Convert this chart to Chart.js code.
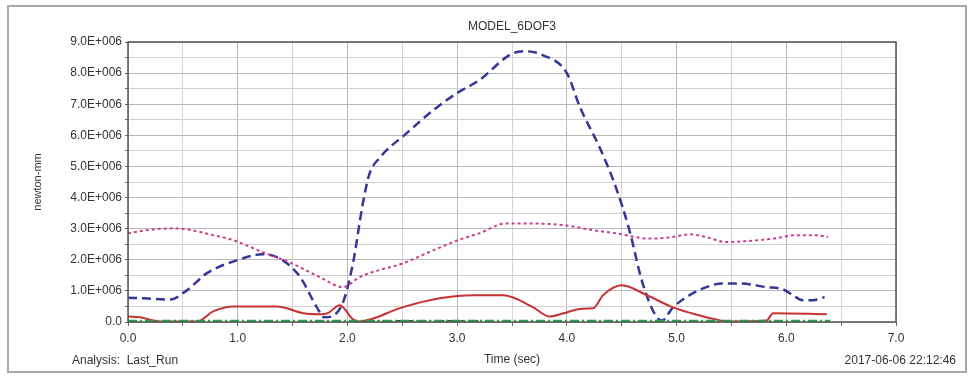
<!DOCTYPE html>
<html>
<head>
<meta charset="utf-8">
<script src="https://cdn.jsdelivr.net/npm/chart.js@4.4.1/dist/chart.umd.min.js"></script>
<style>
  body { margin: 0; background: #fff; }
  #wrap { width: 970px; height: 376px; position: relative; }
</style>
</head>
<body>
<div id="wrap"><canvas id="myChart"></canvas></div>
<script>
// values, force in units of 1.0E+006 newton-mm
const blueTime = [0, 0.15, 0.38, 0.53, 0.72, 0.99, 1.23, 1.41, 1.57, 1.72, 1.79, 1.95, 2.05, 2.14, 2.2, 2.3, 2.54, 2.78, 3.0, 3.2, 3.51, 3.63, 3.78, 4.0, 4.12, 4.3, 4.45, 4.57, 4.69, 4.82, 4.87, 4.96, 5.09, 5.24, 5.42, 5.57, 5.82, 5.97, 6.06, 6.15, 6.24, 6.35];
const blueValues = [0.78, 0.76, 0.72, 1.0, 1.57, 1.98, 2.18, 1.98, 1.44, 0.48, 0.15, 0.55, 1.88, 3.8, 4.75, 5.3, 6.07, 6.8, 7.36, 7.77, 8.64, 8.7, 8.58, 8.0, 6.9, 5.6, 4.3, 2.95, 1.25, 0.15, 0.05, 0.44, 0.8, 1.08, 1.24, 1.24, 1.12, 1.05, 0.86, 0.7, 0.7, 0.8];

const pinkTime = [0, 0.17, 0.41, 0.53, 0.78, 0.96, 1.23, 1.47, 1.75, 1.96, 2.11, 2.2, 2.5, 2.78, 3.0, 3.2, 3.45, 3.63, 4.0, 4.24, 4.45, 4.75, 4.96, 5.12, 5.27, 5.45, 5.64, 5.88, 6.09, 6.27, 6.38];
const pinkValues = [2.85, 2.95, 3.01, 2.98, 2.79, 2.63, 2.24, 1.92, 1.44, 1.12, 1.44, 1.57, 1.88, 2.3, 2.62, 2.85, 3.17, 3.17, 3.1, 2.95, 2.85, 2.68, 2.73, 2.82, 2.73, 2.57, 2.6, 2.68, 2.79, 2.79, 2.73];

const redTime = [0, 0.11, 0.29, 0.63, 0.78, 0.96, 1.36, 1.6, 1.75, 1.82, 1.93, 2.05, 2.11, 2.5, 2.84, 3.15, 3.42, 3.69, 3.84, 3.97, 4.12, 4.24, 4.33, 4.5, 4.73, 4.96, 5.21, 5.36, 5.48, 5.82, 5.88, 6.37];
const redValues = [0.18, 0.15, 0.02, 0.02, 0.35, 0.5, 0.5, 0.28, 0.25, 0.28, 0.54, 0.09, 0.02, 0.47, 0.76, 0.86, 0.86, 0.48, 0.18, 0.28, 0.42, 0.44, 0.86, 1.18, 0.86, 0.48, 0.21, 0.08, 0.02, 0.05, 0.28, 0.25];

const greenTime = [0, 1, 2, 3, 4, 5, 6, 6.4];
const greenValues = [0.03, 0.03, 0.03, 0.03, 0.03, 0.03, 0.03, 0.03];

const blackTime = [2.2, 2.7, 3.2];
const blackValues = [0.04, 0.04, 0.04];

const xTickLabels = ['0.0', '1.0', '2.0', '3.0', '4.0', '5.0', '6.0', '7.0'];
const yTickLabels = ['0.0', '1.0E+006', '2.0E+006', '3.0E+006', '4.0E+006', '5.0E+006', '6.0E+006', '7.0E+006', '8.0E+006', '9.0E+006'];

const FONT = "'Liberation Sans', Arial, sans-serif";

function toPoints(times, values) {
    return times.map((t, i) => ({ x: t, y: values[i] * 1e6 }));
}

// frame, plot border and loose texts
const framePlugin = {
    id: 'frame',
    beforeDraw(chart) {
        const ctx = chart.ctx;
        ctx.save();
        ctx.fillStyle = '#fff';
        ctx.fillRect(0, 0, chart.width, chart.height);
        ctx.strokeStyle = '#a8a8a8';
        ctx.lineWidth = 2;
        ctx.strokeRect(8, 6, 958, 366);
        ctx.restore();
    },
    afterDraw(chart) {
        const ctx = chart.ctx;
        const a = chart.chartArea;
        ctx.save();
        ctx.strokeStyle = '#555';
        ctx.lineWidth = 1.5;
        ctx.strokeRect(a.left, a.top, a.right - a.left, a.bottom - a.top);
        ctx.fillStyle = '#333';
        ctx.font = '12px ' + FONT;
        ctx.textBaseline = 'middle';
        ctx.textAlign = 'center';
        ctx.fillText('MODEL_6DOF3', (a.left + a.right) / 2, 27);
        ctx.textAlign = 'left';
        ctx.fillText('Analysis:  Last_Run', 72, 361);
        ctx.textAlign = 'right';
        ctx.fillText('2017-06-06 22:12:46', 956, 361);
        ctx.restore();
    }
};

function renderChart() {
    const ctx = document.getElementById('myChart').getContext('2d');
    new Chart(ctx, {
        type: 'line',
        data: {
            datasets: [
                {
                    data: toPoints(greenTime, greenValues),
                    borderColor: '#22a544',
                    borderWidth: 2.5,
                    borderDash: [9, 3, 2, 3],
                    pointRadius: 0
                },
                {
                    data: toPoints(blackTime, blackValues),
                    borderColor: '#444',
                    borderWidth: 1.5,
                    borderDash: [5, 3, 2, 3],
                    pointRadius: 0
                },
                {
                    data: toPoints(redTime, redValues),
                    borderColor: '#c83232',
                    borderWidth: 2,
                    pointRadius: 0,
                    cubicInterpolationMode: 'monotone'
                },
                {
                    data: toPoints(pinkTime, pinkValues),
                    borderColor: '#cc3d8a',
                    borderWidth: 2,
                    borderDash: [3, 3],
                    pointRadius: 0,
                    cubicInterpolationMode: 'monotone'
                },
                {
                    data: toPoints(blueTime, blueValues),
                    borderColor: '#35359a',
                    borderWidth: 2.5,
                    borderDash: [9, 5],
                    pointRadius: 0,
                    cubicInterpolationMode: 'monotone'
                }
            ]
        },
        options: {
            responsive: true,
            maintainAspectRatio: false,
            animation: false,
            layout: { padding: { left: 0, top: 42, right: 74, bottom: 0 } },
            plugins: {
                legend: { display: false },
                tooltip: { enabled: false }
            },
            scales: {
                x: {
                    type: 'linear',
                    min: 0,
                    max: 7,
                    afterFit: s => { s.height = 54; },
                    afterBuildTicks: s => {
                        s.ticks = [];
                        for (let i = 0; i <= 14; i++) s.ticks.push({ value: i * 0.5 });
                    },
                    ticks: {
                        autoSkip: false,
                        maxRotation: 0,
                        padding: 5,
                        color: '#333',
                        font: { family: FONT, size: 12 },
                        callback: v => (v % 1 === 0 ? xTickLabels[v] : '')
                    },
                    grid: {
                        color: c => (c.tick && c.tick.value % 1 === 0 ? '#b8b8b8' : '#d4d4d4'),
                        tickColor: '#666',
                        tickLength: 4
                    },
                    border: { display: false },
                    title: {
                        display: true,
                        text: 'Time (sec)',
                        color: '#333',
                        font: { family: FONT, size: 12 },
                        padding: { top: 0, bottom: 9 }
                    }
                },
                y: {
                    min: 0,
                    max: 9e6,
                    afterFit: s => { s.width = 128; },
                    afterBuildTicks: s => {
                        s.ticks = [];
                        for (let i = 0; i <= 18; i++) s.ticks.push({ value: i * 0.5e6 });
                    },
                    ticks: {
                        autoSkip: false,
                        padding: 3,
                        color: '#333',
                        font: { family: FONT, size: 12 },
                        callback: v => (v % 1e6 === 0 ? yTickLabels[v / 1e6] : '')
                    },
                    grid: {
                        color: c => (c.tick && c.tick.value % 1e6 === 0 ? '#b8b8b8' : '#d0d0d0'),
                        tickColor: '#666',
                        tickLength: 3
                    },
                    border: { display: false },
                    title: {
                        display: true,
                        text: 'newton-mm',
                        color: '#333',
                        font: { family: FONT, size: 11 },
                        padding: { top: 31, bottom: 0 }
                    }
                }
            }
        },
        plugins: [framePlugin]
    });
}

renderChart();
</script>
</body>
</html>
